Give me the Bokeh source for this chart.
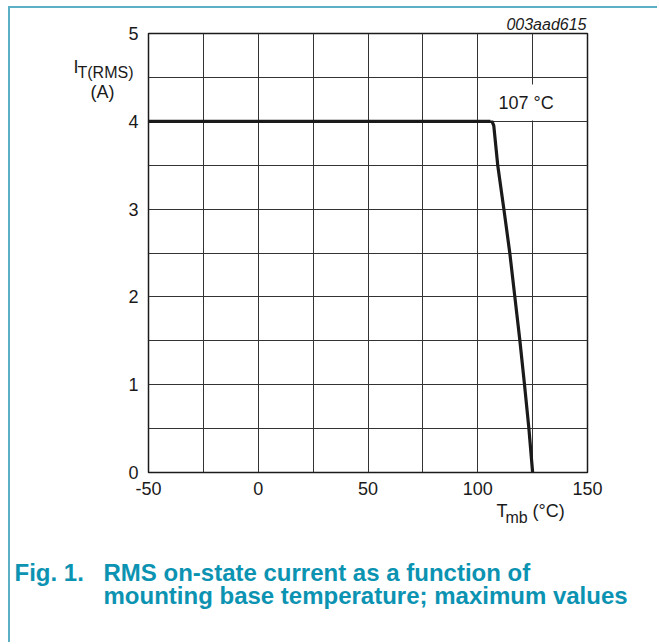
from bokeh.plotting import figure
from bokeh.models import Range1d, FixedTicker, Label, PrintfTickFormatter
from bokeh.embed import file_html
from bokeh.resources import INLINE

# ---- data ----
temp_c = [-50, 106.5, 107.3, 109.1, 111.9, 114.6, 116.9, 119.2, 121.3, 123.3, 125]
current_a = [4.0, 4.0, 3.95, 3.5, 3.0, 2.5, 2.0, 1.5, 1.0, 0.5, 0.0]

x_major = [-50, 0, 50, 100, 150]
x_minor = [-25, 25, 75, 125]
y_major = [0, 1, 2, 3, 4, 5]
y_minor = [0.5, 1.5, 2.5, 3.5, 4.5]

FONT = "Liberation Sans"
TEAL = "#0C93B2"
FRAME = "#5BB0C6"
INK = "#1a1a1a"

p = figure(width=649, height=636, output_backend="svg", toolbar_location=None,
           x_range=Range1d(-50, 150), y_range=Range1d(0, 5),
           min_border_left=138, min_border_right=72,
           min_border_top=25, min_border_bottom=172)
p.styles = {"border-left": f"2px solid {FRAME}", "border-top": f"2px solid {FRAME}",
            "margin-left": "8px", "margin-top": "6px"}

p.background_fill_color = "white"
p.border_fill_color = "white"
p.outline_line_color = INK
p.outline_line_width = 1.5

p.xaxis.ticker = FixedTicker(ticks=x_major, minor_ticks=x_minor)
p.yaxis.ticker = FixedTicker(ticks=y_major, minor_ticks=y_minor)
p.xaxis.formatter = PrintfTickFormatter(format="%d")
p.yaxis.formatter = PrintfTickFormatter(format="%d")

for ax in (p.xaxis, p.yaxis):
    ax.axis_line_color = None
    ax.major_tick_line_color = None
    ax.minor_tick_line_color = None
    ax.major_tick_out = 0
    ax.minor_tick_out = 0
    ax.major_label_text_font = FONT
    ax.major_label_text_font_size = "18px"
    ax.major_label_text_color = INK
p.xaxis.major_label_standoff = 9
p.yaxis.major_label_standoff = 10

for g in (p.xgrid, p.ygrid):
    g.grid_line_color = "#333333"
    g.grid_line_width = 1
    g.minor_grid_line_color = "#333333"
    g.minor_grid_line_width = 1

p.line(temp_c, current_a, line_color=INK, line_width=3.2, line_join="round")


def lab(x, y, text, size="18px", align="left", baseline="alphabetic", style="normal",
        color=INK, units="canvas", place="below", **kw):
    p.add_layout(Label(x=x, y=y, x_units=units, y_units=units, text=text,
                       text_font=FONT, text_font_size=size,
                       text_align=align, text_baseline=baseline,
                       text_font_style=style, text_color=color, **kw), place)


# y-axis title
lab(61, 56.5, "I", place="left")
lab(65, 61.5, "T(RMS)", size="16px", place="left")
lab(90, 81, "(A)", align="center", place="left")

# x-axis title
lab(484, 500.5, "T")
lab(493, 507, "mb", size="16px")
lab(520, 500.5, "(°C)")

# annotation (inside the frame)
lab(122.0, 4.214, "107 °C", units="data", place="center", align="center",
    baseline="middle", background_fill_color="white", padding=8)

# figure id
lab(574, 14, "003aad615", size="16px", align="right", style="italic", place="above")

# caption
lab(2, 561.5, "Fig. 1.", size="24px", style="bold", color=TEAL)
lab(91, 561.5, "RMS on-state current as a function of", size="24px", style="bold", color=TEAL)
lab(91, 584.5, "mounting base temperature; maximum values", size="24px", style="bold", color=TEAL)

open("out.html", "w").write(file_html(p, INLINE))
